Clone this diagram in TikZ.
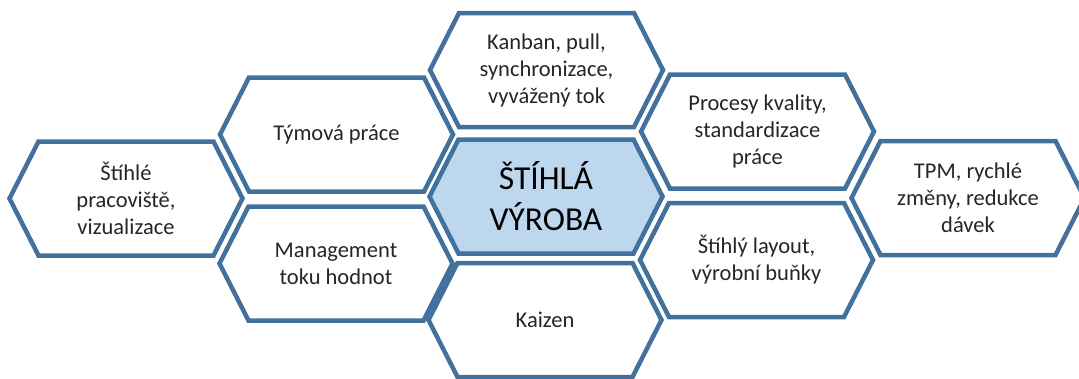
\documentclass[tikz,border=0pt]{standalone}
\usepackage{fontspec}
\setmainfont{Carlito}
\usetikzlibrary{calc}
\definecolor{hexline}{HTML}{41719C}
\definecolor{hexcore}{HTML}{BDD7EE}
\definecolor{hextext}{HTML}{262626}
% hexagon with flat top and bottom, centred on #2
\newcommand{\hexcell}[2][fill=white]{%
  \draw[hexborder,#1] ($(#2)+(-116.5,0)$) -- ++(29,-57) -- ++(175,0) -- ++(29,57)
    -- ++(-29,57) -- ++(-175,0) -- cycle;}
\tikzset{
  hexborder/.style={draw=hexline, line width=4.5pt, line join=miter},
  celltext/.style={align=center, text=hextext, font=\fontsize{22.5}{27}\selectfont},
  coretext/.style={align=center, text=black, font=\fontsize{33.5}{41}\selectfont},
}
\begin{document}
\begin{tikzpicture}[x=1pt,y=-1pt]
\useasboundingbox (0,0) rectangle (1079,378);
% cell centres
\coordinate (cA) at (126,198.5);
\coordinate (cB) at (336.5,134.5);
\coordinate (cC) at (336,263.5);
\coordinate (cD) at (546.5,70);
\coordinate (cE) at (546,196.5);
\coordinate (cF) at (545,320);
\coordinate (cG) at (757.5,131.5);
\coordinate (cH) at (756.5,260);
\coordinate (cI) at (968,198);
% honeycomb
\hexcell{cA}
\hexcell{cB}
\hexcell{cC}
\hexcell{cD}
\hexcell[fill=hexcore]{cE}
\hexcell{cF}
\hexcell{cG}
\hexcell{cH}
\hexcell{cI}
% labels
\node[celltext] (tA) at (cA) {Štíhlé\\pracoviště,\\vizualizace};
\node[celltext] (tB) at (cB) {Týmová práce};
\node[celltext] (tC) at (cC) {Management\\toku hodnot};
\node[celltext] (tD) at (cD) {Kanban, pull,\\synchronizace,\\vyvážený tok};
\node[coretext] (tE) at (cE) {ŠTÍHLÁ\\VÝROBA};
\node[celltext] (tF) at (cF) {Kaizen};
\node[celltext] (tG) at (cG) {Procesy kvality,\\standardizace\\práce};
\node[celltext] (tH) at (cH) {Štíhlý layout,\\výrobní buňky};
\node[celltext] (tI) at (cI) {TPM, rychlé\\změny, redukce\\dávek};
\end{tikzpicture}
\end{document}
